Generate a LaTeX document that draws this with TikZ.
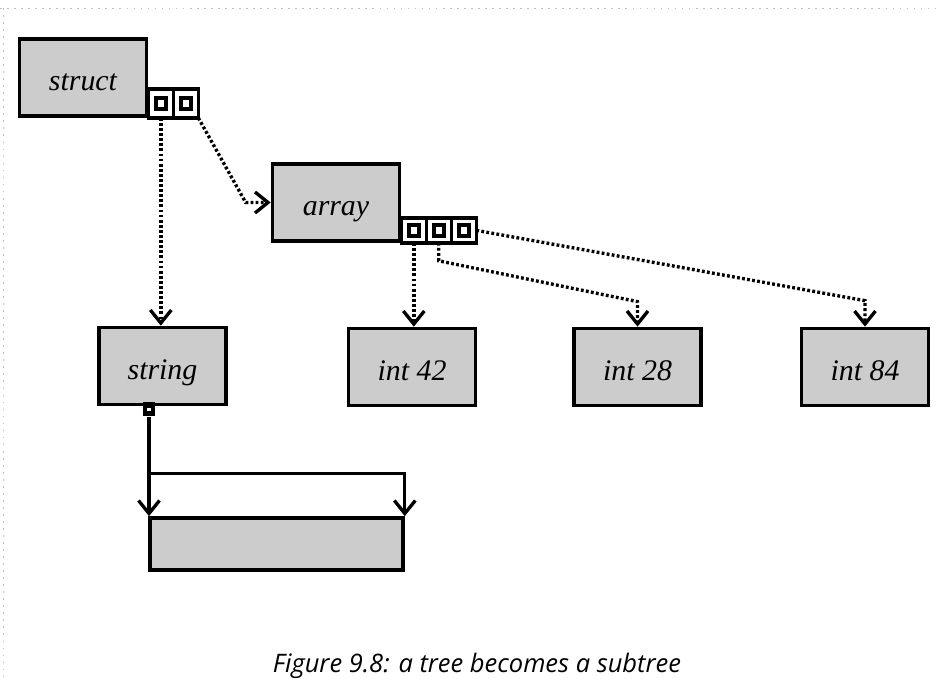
\documentclass[tikz,border=0pt]{standalone}
\usepackage{fontspec}
\setmainfont{Liberation Serif}
\newfontfamily\capfont{Open Sans}
\usetikzlibrary{positioning,arrows.meta}

\begin{document}
\begin{tikzpicture}[
  x=0.02cm, y=-0.02cm,
  font=\fontsize{17}{19}\selectfont\itshape,
  box/.style={draw,line width=2.1pt,fill=black!20,minimum width=2.54cm,minimum height=1.54cm,
    inner sep=0pt,text height=15pt,text depth=0pt},
  slot/.style={draw,line width=1.9pt,fill=white,outer sep=0pt,inner sep=0pt,
    minimum width=0.5cm,minimum height=0.5cm,label={[ptr]center:}},
  ptr/.style={draw,line width=2pt,fill=white,inner sep=0pt,minimum width=0.2cm,minimum height=0.22cm},
  tag/.style={fill=black,inner sep=0pt,minimum width=0.24cm,minimum height=0.28cm,
    label={[fill=white,inner sep=0pt,minimum size=0.07cm]center:}},
  >={Straight Barb[length=2.6mm,width=4.2mm]},
  link/.style={->,line width=1.9pt},
  ptrlink/.style={link,dash pattern=on 1.6pt off 1.3pt},
  frame/.style={black!25,line width=0.4pt,dash pattern=on 1pt off 3pt}
]
\useasboundingbox (0,0) rectangle (937,679);
\draw[frame] (0,8) -- (937,8);
\draw[frame] (3,8) -- (3,679);

% ---------------- top: struct and array ----------------
\node[box] (struct) at (83,77.5) {struct};
\node[slot,minimum height=0.58cm,anchor=south west] (s1) at (struct.south east) {};
\node[slot,minimum height=0.58cm,right=0pt of s1] (s2) {};

\node[box] (array) at (336,202.5) {array};
\node[slot,anchor=south west] (a1) at (array.south east) {};
\node[slot,right=0pt of a1] (a2) {};
\node[slot,right=0pt of a2] (a3) {};

% ---------------- leaves ----------------
\node[box] (string) at (162.5,366) {string};
\node[box] (int42)  at (412,367)   {int 42};
\node[box] (int28)  at (637.5,367) {int 28};
\node[box] (int84)  at (865,367)   {int 84};

\node[tag] (sp) at ([xshift=-0.27cm,yshift=-0.06cm]string.south) {};
\node[box,minimum width=5.06cm,minimum height=1.04cm] (buf) at (276.5,544) {};

% ---------------- pointers ----------------
\draw[ptrlink] (s1.south) -- (s1.south |- string.north);
\draw[ptrlink] (s2.south east) -- ([xshift=-0.5cm]array.west) -- (array.west);
\draw[ptrlink] (a1.south) -- (a1.south |- int42.north);
\draw[ptrlink] (a2.south) -- ++(0,18) -- ([yshift=0.5cm]int28.north) -- (int28.north);
\draw[ptrlink] (a3.east) -- ([yshift=0.52cm]int84.north) -- (int84.north);

\path (sp.south) ++(0,57) coordinate (fork);
\draw[link] (sp.south) -- (sp.south |- buf.north);
\draw[link] (fork) -| (buf.north east);

\node[font=\capfont\fontsize{14.5}{17}\selectfont\itshape,anchor=base] (cap) at (477,672)
  {Figure 9.8: a tree becomes a subtree};
\end{tikzpicture}
\end{document}
